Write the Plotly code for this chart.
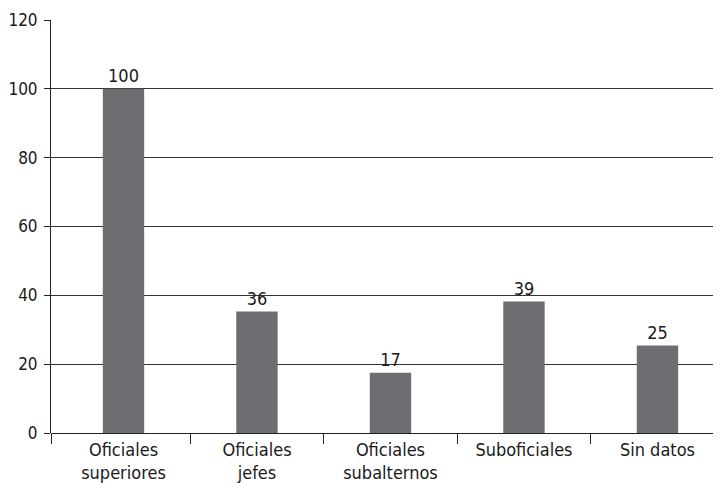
import plotly.graph_objects as go

categories = ["Oficiales<br>superiores", "Oficiales<br>jefes", "Oficiales<br>subalternos", "Suboficiales", "Sin datos"]
values = [100, 35.3, 17.5, 38.2, 25.4]
value_labels = ["100", "36", "17", "39", "25"]
y_ticks = [0, 20, 40, 60, 80, 100, 120]

FONT = "DejaVu Sans Condensed, Liberation Sans Narrow, sans-serif"
positions = list(range(len(categories)))
x_range = [-0.543, 4.476]
boundaries = [x_range[0]] + [p + 0.5 for p in positions[:-1]]

fig = go.Figure()
fig.add_trace(go.Bar(
    x=positions, y=values, width=0.31,
    marker=dict(color="#6d6e71", line=dict(width=0)),
    text=value_labels, textposition="outside", cliponaxis=False,
    textfont=dict(family=FONT, size=18, color="#1a1a1a"),
    xaxis="x", yaxis="y", showlegend=False,
))
fig.add_trace(go.Scatter(x=positions, y=[None]*len(positions), xaxis="x2", yaxis="y",
                         showlegend=False, hoverinfo="skip"))

# page body has an 8px margin, so the figure is sized to fill the rest of the window
fig.update_layout(
    width=713, height=475,
    margin=dict(l=43, r=0, t=12, b=50),
    paper_bgcolor="white", plot_bgcolor="white",
    font=dict(family=FONT, size=18, color="#1a1a1a"),
    xaxis=dict(range=x_range, tickmode="array", tickvals=boundaries, ticktext=[""]*len(boundaries),
               ticks="outside", ticklen=10, tickcolor="#222", tickwidth=1, automargin=False,
               showgrid=False, zeroline=False, showline=False),
    xaxis2=dict(range=x_range, overlaying="x", side="bottom", tickmode="array",
                tickvals=positions, ticktext=categories, ticks="", showgrid=False,
                zeroline=False, showline=False, ticklabelstandoff=4, automargin=False,
                tickfont=dict(family=FONT, size=18, color="#1a1a1a")),
    yaxis=dict(range=[0, 120], tickmode="array", tickvals=y_ticks,
               ticks="outside", ticklen=6, tickcolor="#222", automargin=False,
               showgrid=True, gridcolor="#333", gridwidth=1,
               showline=True, linecolor="#222", linewidth=1,
               zeroline=True, zerolinecolor="#222", zerolinewidth=1,
               ticklabelstandoff=3,
               tickfont=dict(family=FONT, size=17, color="#1a1a1a")),
)

fig.write_html("out.html")
